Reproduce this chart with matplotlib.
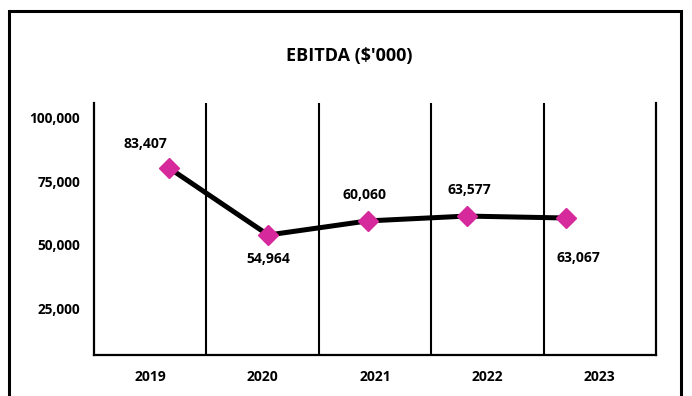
import matplotlib
matplotlib.use("Agg")
import matplotlib.pyplot as plt
from matplotlib.patches import Rectangle
from matplotlib.ticker import FuncFormatter

# ---- data ----
years = ["2019", "2020", "2021", "2022", "2023"]
ebitda_plotted = [80080, 53900, 59400, 61300, 60550]
ebitda_labels = ["83,407", "54,964", "60,060", "63,577", "63,067"]
yticks = [25000, 50000, 75000, 100000]
title = "EBITDA ($'000)"

FONT = ["Open Sans", "DejaVu Sans"]
plt.rcParams["font.family"] = FONT
plt.rcParams["font.weight"] = "bold"

fig = plt.figure(figsize=(6.92, 3.96), dpi=100)
fig.patch.set_facecolor("white")

# outer frame
fig.patches.append(Rectangle((9 / 692, -0.05), (681 - 9) / 692, 0.05 + 1 - 11 / 396,
                             transform=fig.transFigure, fill=False,
                             edgecolor="black", linewidth=2.2, zorder=0))

left, right = 94 / 692, 656 / 692
bottom, top = 1 - 355 / 396, 1 - 103 / 396
ax = fig.add_axes([left, bottom, right - left, top - bottom])
x = list(range(len(years)))
ax.set_xlim(-0.5, len(years) - 0.5)
ax.set_ylim(7030, 105470)
for b in [i + 0.5 for i in x[:-1]]:
    ax.axvline(b, color="black", linewidth=1.5, zorder=1)
ax.spines["top"].set_visible(False)
for s in ["left", "right", "bottom"]:
    ax.spines[s].set_linewidth(1.6)
ax.set_xticks(x)
ax.set_xticklabels(years, fontsize=10, fontweight="bold")
ax.set_yticks(yticks)
ax.yaxis.set_major_formatter(FuncFormatter(lambda v, p: f"{int(v):,}"))
ax.tick_params(axis="both", length=0)
ax.tick_params(axis="x", pad=11, labelsize=10)
ax.tick_params(axis="y", pad=10, labelsize=9.8)
for t in ax.get_yticklabels():
    t.set_fontweight("bold")

# line on its own x scale (points are offset from category centres in the source)
ax2 = ax.twiny()
ax2.set_xlim(-0.756, 4.907)
ax2.set_xticks([])
for s in ax2.spines.values():
    s.set_visible(False)
ax2.plot(x, ebitda_plotted, color="black", linewidth=3.6, zorder=3)
ax2.plot(x, ebitda_plotted, linestyle="none", marker="D", markersize=10,
         color="#d62a9c", markeredgecolor="#d62a9c", zorder=4)

offsets = [(-17, 17), (0, -17), (-2, 19), (2, 19), (9, -29)]
for xi, yi, lab, off in zip(x, ebitda_plotted, ebitda_labels, offsets):
    ax2.annotate(lab, (xi, yi), xytext=off, textcoords="offset points",
                 ha="center", va="center", fontsize=10, fontweight="bold")

fig.text(349 / 692, 1 - 56 / 396, title, ha="center", va="center",
         fontsize=13, fontweight="bold")

fig.savefig("out.png", dpi=100)
